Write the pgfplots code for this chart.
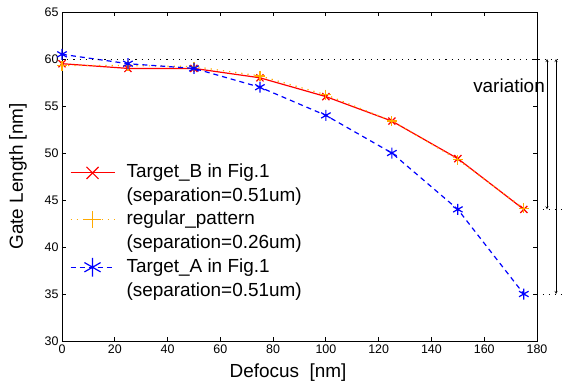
\documentclass[border=0pt]{standalone}
\usepackage{fontspec}
\setmainfont{Liberation Sans}
\usepackage{pgfplots}
\pgfplotsset{compat=1.18}
\definecolor{myorange}{RGB}{255,170,0}
\begin{document}
\begin{tikzpicture}[font=\fontsize{19}{21}\selectfont]
\begin{axis}[
  scale only axis, width=475bp, height=329bp,
  xmin=0, xmax=180, ymin=30, ymax=65,
  axis line style={thick, black},
  xtick={0,20,...,180}, ytick={30,35,...,65},
  tick align=inside, tick style={black, thick},
  major tick length=4bp,
  xtick pos=both, ytick pos=both,
  ticklabel style={font=\fontsize{12.5}{14}\selectfont},
  /pgf/number format/assume math mode=true,
  xlabel={Defocus\ \ [nm]}, ylabel={Gate Length [nm]},
  xlabel style={at={(axis description cs:0.476,-0.097)}, anchor=center},
  ylabel style={at={(axis description cs:-0.0926,0.5)}, anchor=center},
  clip=false,
  legend style={draw=none, fill=none, at={(axis description cs:0.01,0.545)}, anchor=north west,
    font=\fontsize{19}{21}\selectfont, row sep=5.5bp,
    nodes={inner sep=0bp, text height=14bp, text depth=4bp}},
  legend cell align=left,
  legend image code/.code={\draw[mark repeat=2,mark phase=2,#1,every mark/.append style={scale=1.7}] plot coordinates {(0bp,0bp) (22bp,0bp) (44bp,0bp)};
    \path[draw=none, fill=none] (0bp,0bp) rectangle (56bp,0.1bp);},
]
\addplot[red, line width=1.2bp, mark=x, mark size=5bp, mark options={solid}] coordinates {
(0,59.5) (25,59.0) (50,59.0) (75,58.0) (100,56.0) (125,53.4) (150,49.4) (175,44.0)};
\addlegendentry{Target\_B in Fig.1}
\addlegendimage{empty legend}
\addlegendentry{(separation=0.51um)}
\addplot[myorange, line width=1.2bp, dash pattern=on 1.2bp off 5bp, mark=+, mark size=5bp, mark options={solid}] coordinates {
(0,59.3) (25,59.3) (50,59.2) (75,58.2) (100,56.2) (125,53.4) (150,49.3) (175,44.1)};
\addlegendentry{regular\_pattern}
\addlegendimage{empty legend}
\addlegendentry{(separation=0.26um)}
\addplot[blue, line width=1.2bp, dash pattern=on 5bp off 4bp, mark=asterisk, mark size=5.5bp, mark options={solid}] coordinates {
(0,60.5) (25,59.5) (50,59.0) (75,57.0) (100,54.0) (125,50.0) (150,44.0) (175,35.0)};
\addlegendentry{Target\_A in Fig.1}
\addlegendimage{empty legend}
\addlegendentry{(separation=0.51um)}
\draw[black, thick, dash pattern=on 1.2bp off 5bp] (axis cs:2,60) -- (axis cs:190,60);
\draw[black, thick, dash pattern=on 1pt off 5pt] (axis cs:180,44) -- (axis cs:190,44);
\draw[black, thick, dash pattern=on 1pt off 5pt] (axis cs:180,35) -- (axis cs:190,35);
\draw[black, <->, >=stealth] (axis cs:183.8,60) -- (axis cs:183.8,44);
\draw[black, <->, >=stealth] (axis cs:187.2,60) -- (axis cs:187.2,35);
\node at (axis cs:169.4,57.2) {variation};
\path (rel axis cs:0,0) ++(-62bp,-46bp) coordinate (bbl);
\path (rel axis cs:1,1) ++(26bp,12bp) coordinate (btr);
\end{axis}
\pgfresetboundingbox
\path[use as bounding box] (bbl) rectangle (btr);
\end{tikzpicture}
\end{document}
